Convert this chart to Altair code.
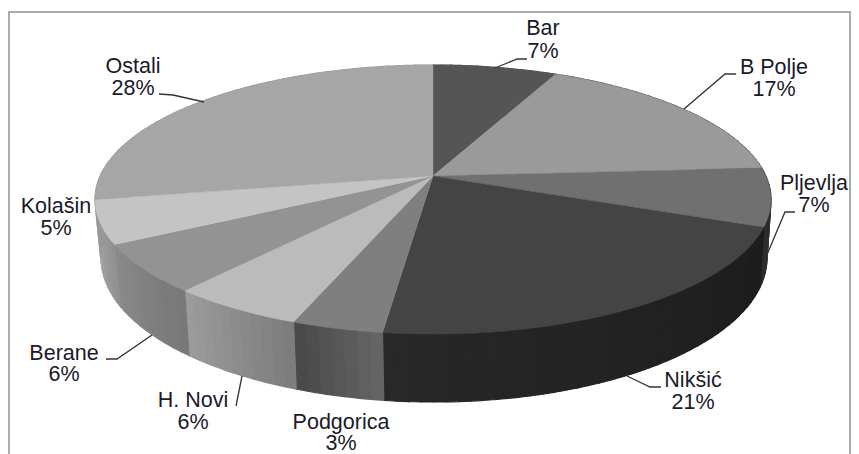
import math
import altair as alt
import pandas as pd

# ---- values (clockwise from 12 o'clock) ----
names = ["Bar", "B Polje", "Pljevlja", "Nikšić", "Podgorica", "H. Novi", "Berane", "Kolašin", "Ostali"]
labels_pct = [7, 17, 7, 21, 3, 6, 6, 5, 28]
shares = [7.0, 17.0, 7.0, 21.0, 3.7, 5.5, 5.8, 5.2, 27.8]

# ---- styles ----
top_colors = ["#555555", "#9a9a9a", "#707070", "#444444", "#7f7f7f", "#bbbbbb", "#939393", "#c4c4c4", "#a6a6a6"]
wall_from = ["#555555", "#555555", "#3a3a3a", "#1c1c1c", "#666666", "#7c7c7c", "#777777", "#8f8f8f", "#999999"]
wall_to = ["#555555", "#555555", "#2a2a2a", "#282828", "#484848", "#9c9c9c", "#8a8a8a", "#aaaaaa", "#999999"]

# ---- layout (page pixels, minus the 8px page margin) ----
M = 8
VX, VY = 433.0, 176.0      # apex of the slices
A, B, K = 332.8, 130.4, 0.175  # perspective of the top face
TOP_C = (433.5, 199.5, 338.0, 134.5)
BOT_C = (434.0, 258.0, 333.0, 144.0)
W, H = 843, 446

text_pos = {
    "Bar": (543, 28.5, 51.5), "B Polje": (774, 67.5, 89.5), "Pljevlja": (814, 183.5, 205.5),
    "Nikšić": (693, 380.5, 402.5), "Podgorica": (341, 423, 443.5), "H. Novi": (193, 400.5, 422.5),
    "Berane": (64, 353.5, 374.5), "Kolašin": (56, 206.5, 228.5), "Ostali": (133, 66.5, 88.5),
}
leaders = [
    [(495, 68), (517, 59), (527, 59)],
    [(684, 109), (725, 74), (736, 74)],
    [(795, 212), (785, 212), (766, 257)],
    [(627, 376), (650, 387), (661, 387)],
    [(242, 376), (236, 406)],
    [(152, 335), (117, 359), (106, 359)],
    [(204, 102), (173, 95), (159, 94)],
]
frame = [(9, 454), (9, 12), (850, 12), (850, 454)]


def project(theta):
    u, v = math.sin(theta), math.cos(theta)
    d = 1 + K * v
    return VX + A * u / d, VY - B * v / d


def ell_angle(theta):
    x, y = project(theta)
    cx, cy, rx, ry = TOP_C
    return math.atan2((cy - y) / ry, (x - cx) / rx)


def on_bottom(theta):
    phi = ell_angle(theta)
    cx, cy, rx, ry = BOT_C
    return cx + rx * math.cos(phi), cy - ry * math.sin(phi)


def pg(pts):
    return [[x - M, y - M] for x, y in pts]


def feature(kind, coords, fill):
    return {
        "type": "Feature",
        "properties": {"fill": fill},
        "geometry": {"type": kind, "coordinates": coords},
    }


def mix(c1, c2, t):
    a = [int(c1[i:i + 2], 16) for i in (1, 3, 5)]
    b = [int(c2[i:i + 2], 16) for i in (1, 3, 5)]
    return "#%02x%02x%02x" % tuple(round(p + (q - p) * t) for p, q in zip(a, b))


tops, walls = [], []
cum = 0.0
for i, s in enumerate(shares):
    t0 = cum / sum(shares) * 2 * math.pi
    cum += s
    t1 = cum / sum(shares) * 2 * math.pi
    n = max(3, int(s * 4))
    ths = [t0 + (t1 - t0) * j / n for j in range(n + 1)]
    ring = [(VX, VY)] + [project(t) for t in ths] + [(VX, VY)]
    tops.append(feature("Polygon", [pg(ring)], top_colors[i]))
    strips = max(2, int(s * 2))
    for j in range(strips):
        a0 = t0 + (t1 - t0) * j / strips
        a1 = t0 + (t1 - t0) * (j + 1) / strips
        sub = [a0 + (a1 - a0) * q / 2 for q in range(3)]
        poly = [project(t) for t in sub] + [on_bottom(t) for t in reversed(sub)]
        poly.append(poly[0])
        walls.append(feature("Polygon", [pg(poly)], mix(wall_from[i], wall_to[i], (j + .5) / strips)))

wall_layer = alt.Chart(alt.Data(values=walls)).mark_geoshape(strokeWidth=1.2).encode(
    fill=alt.Fill("properties.fill:N", scale=None),
    stroke=alt.Stroke("properties.fill:N", scale=None),
)
top_layer = alt.Chart(alt.Data(values=tops)).mark_geoshape(strokeWidth=0.4).encode(
    fill=alt.Fill("properties.fill:N", scale=None),
    stroke=alt.Stroke("properties.fill:N", scale=None),
)
leader_layer = alt.Chart(alt.Data(values=[feature("LineString", pg(l), "#333333") for l in leaders])).mark_geoshape(
    filled=False, stroke="#333333", strokeWidth=1.3
)
frame_layer = alt.Chart(alt.Data(values=[feature("LineString", pg(frame), "#aaaaaa")])).mark_geoshape(
    filled=False, stroke="#aaaaaa", strokeWidth=2
)

rows = []
for n, p in zip(names, labels_pct):
    x, y1, y2 = text_pos[n]
    rows.append({"t": n, "px": x - M, "py": y1 - M})
    rows.append({"t": f"{p}%", "px": x - M, "py": y2 - M})
text_layer = alt.Chart(pd.DataFrame(rows)).mark_text(
    font="Liberation Sans", fontSize=21.5, color="#1a1a2a", align="center", baseline="middle"
).encode(
    x=alt.X("px:Q", scale=None, axis=None),
    y=alt.Y("py:Q", scale=None, axis=None),
    text="t:N",
)

chart = alt.layer(
    frame_layer.project(type="identity", scale=1, translate=[0, 0]),
    wall_layer.project(type="identity", scale=1, translate=[0, 0]),
    top_layer.project(type="identity", scale=1, translate=[0, 0]),
    leader_layer.project(type="identity", scale=1, translate=[0, 0]),
    text_layer,
).properties(
    width=W, height=H, padding=0, autosize=alt.AutoSizeParams(type="none"), background="white"
).configure_view(stroke=None)

chart.save("out.html", embed_options={"renderer": "svg", "actions": False})
